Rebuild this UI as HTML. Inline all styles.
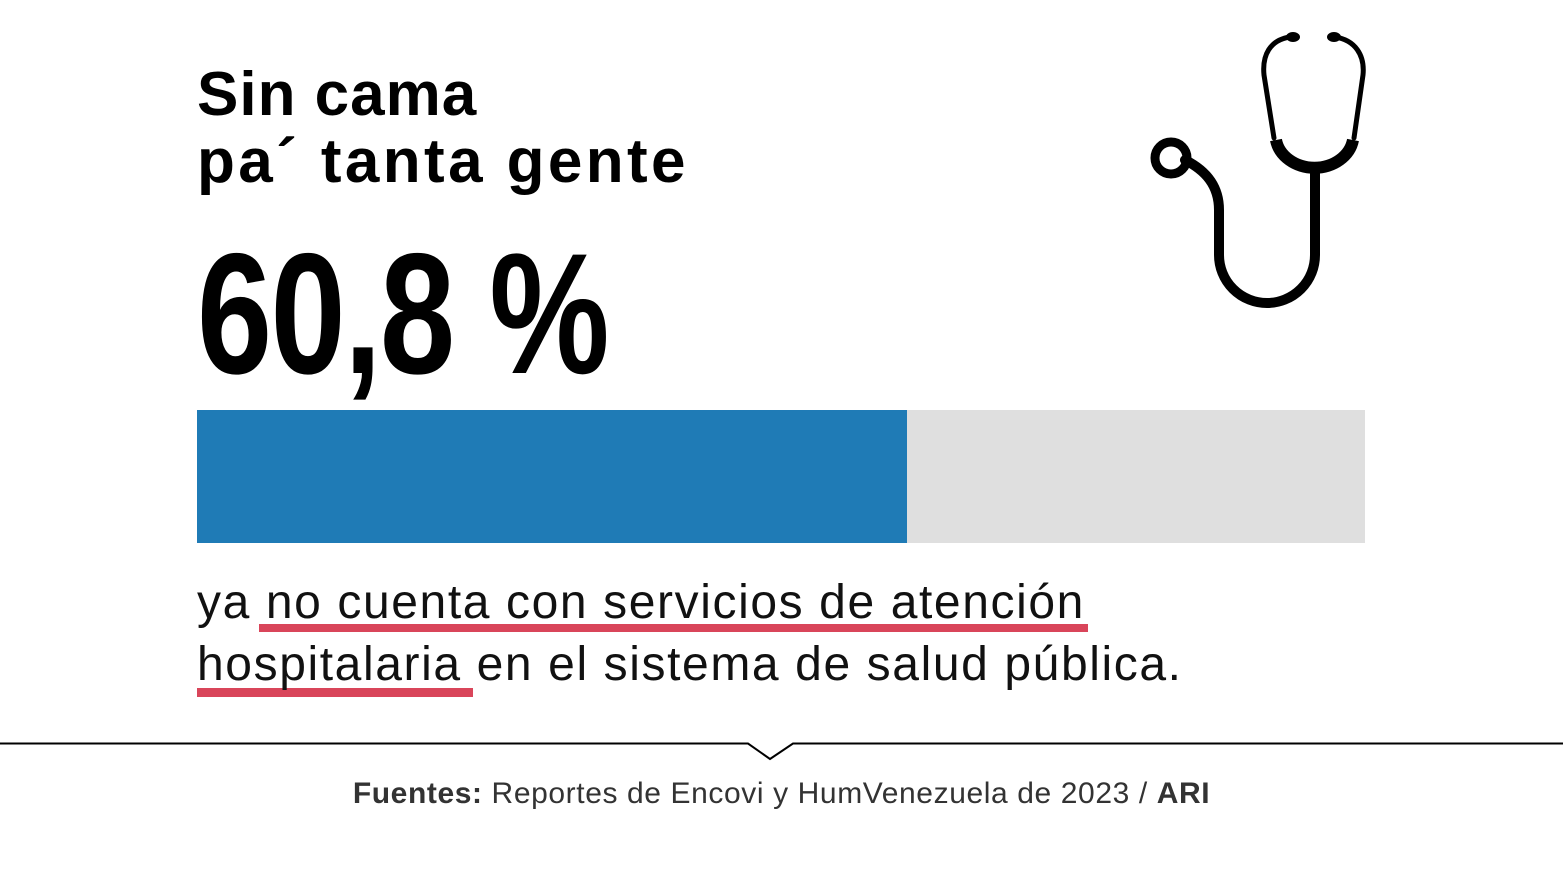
<!DOCTYPE html>
<html><head><meta charset="utf-8"><style>
body{margin:0;width:1563px;height:880px;background:#fff;position:relative;overflow:hidden;font-family:"Liberation Sans",sans-serif;}
.t{position:absolute;white-space:nowrap;}
</style></head><body>
<div class="t" style="left:197px;top:61px;font-size:62px;font-weight:bold;line-height:67px;color:#000;"><span style="letter-spacing:1px">Sin cama</span><br><span style="letter-spacing:3.4px">pa´ tanta gente</span></div>
<div class="t" style="left:197px;top:228px;font-size:172px;font-weight:bold;line-height:172px;color:#000;transform:scaleX(0.785);transform-origin:0 0;letter-spacing:-2px;">60,8 %</div>
<div style="position:absolute;left:197px;top:410px;width:1168px;height:133px;background:#dfdfdf;"></div>
<div style="position:absolute;left:197px;top:410px;width:710px;height:133px;background:#1f7bb6;"></div>
<div style="position:absolute;left:259px;top:624px;width:829px;height:8px;background:#d9455a;"></div>
<div style="position:absolute;left:197px;top:688px;width:276px;height:9px;background:#d9455a;"></div>
<div class="t" style="left:197px;top:572px;font-size:48px;line-height:62px;color:#111;letter-spacing:1.6px;">ya no cuenta con servicios de atención<br>hospitalaria en el sistema de salud pública.</div>
<svg style="position:absolute;left:0;top:0" width="1563" height="880">
<polyline points="0,743.5 748,743.5 770,759 793,743.5 1563,743.5" fill="none" stroke="#000" stroke-width="2"/>
<g fill="none" stroke="#000" stroke-linecap="round">
<path d="M1290,37 C1270,40 1262,55 1264,75 L1274,138" stroke-width="5"/>
<path d="M1335,37 C1355,40 1365,55 1363,75 L1354,138" stroke-width="5"/>
<path d="M1276,140 A39,33 0 0 0 1353,140" stroke-width="12" stroke-linecap="butt"/>
<path d="M1315,172 L1315,255 A48,48 0 0 1 1219,255 L1219,210 C1219,185 1205,170 1185,160" stroke-width="10"/>
<circle cx="1171" cy="158" r="16" stroke-width="9"/>
</g>
<ellipse cx="1293" cy="37" rx="7" ry="5" fill="#000"/>
<ellipse cx="1334" cy="37" rx="7" ry="5" fill="#000"/>
</svg>
<div class="t" style="left:0;width:1563px;text-align:center;top:776px;font-size:30px;line-height:36px;color:#333;letter-spacing:0.6px;"><b>Fuentes:</b> Reportes de Encovi y HumVenezuela de 2023 / <b>ARI</b></div>
</body></html>
